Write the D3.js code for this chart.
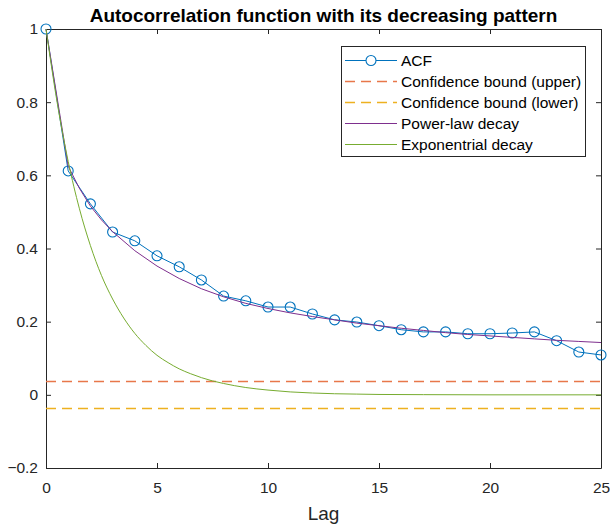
<!DOCTYPE html>
<html>
<head>
<meta charset="utf-8">
<script src="https://cdn.jsdelivr.net/npm/d3@7"></script>
<style>
  html, body { margin: 0; padding: 0; background: #fff; }
  svg { display: block; font-family: "Liberation Sans", Arial, sans-serif; }
</style>
</head>
<body>
<svg id="chart" width="610" height="526"></svg>
<script>
// ---- Data ----
const lags = d3.range(0, 26);
const acfValues = [1.000, 0.612, 0.522, 0.445, 0.421, 0.380, 0.350, 0.314, 0.270, 0.257,
                   0.240, 0.240, 0.221, 0.205, 0.199, 0.189, 0.178, 0.172, 0.172, 0.167,
                   0.167, 0.169, 0.172, 0.148, 0.117, 0.109];
const confUpper = 0.037;
const confLower = -0.037;
const powerLags   = [0, 1, 1.5, 2, 2.5, 3, 4, 5, 6, 7, 8, 9, 10, 11, 12, 13, 14, 15, 16, 17, 18, 19, 20, 21, 22, 23, 24, 25];
const powerValues = [1.000, 0.625, 0.565, 0.516, 0.478, 0.446, 0.394, 0.352, 0.318, 0.290, 0.268, 0.250, 0.236, 0.224,
                     0.214, 0.205, 0.196, 0.189, 0.182, 0.176, 0.170, 0.165, 0.161, 0.157, 0.153, 0.149, 0.146, 0.143];
const expLags   = [0, 0.5, 1, 1.5, 2, 2.5, 3, 3.5, 4, 4.5, 5, 5.5, 6, 6.5, 7, 7.5, 8, 9, 10, 11, 12, 13, 14, 15, 17, 20, 25];
const expValues = [1.000, 0.800, 0.638, 0.510, 0.408, 0.326, 0.262, 0.210, 0.168, 0.135, 0.108, 0.088, 0.071, 0.058,
                   0.047, 0.038, 0.031, 0.020, 0.013, 0.008, 0.005, 0.003, 0.002, 0.001, 0.0005, 0.0, 0.0];
const xTicks = [0, 5, 10, 15, 20, 25];
const yTicks = [-0.2, 0, 0.2, 0.4, 0.6, 0.8, 1];
const legendLabels = ["ACF", "Confidence bound (upper)", "Confidence bound (lower)", "Power-law decay", "Exponentrial decay"];
const colors = { acf: "#0072BD", upper: "#E8774A", lower: "#EDB120", power: "#7E2F8E", exp: "#77AC30" };
const titleText = "Autocorrelation function with its decreasing pattern";
const xLabelText = "Lag";

// ---- Layout ----
const margin = { left: 46, top: 29, right: 9, bottom: 58 };
const W = 610, H = 526;
const iw = W - margin.left - margin.right;
const ih = H - margin.top - margin.bottom;

const svg = d3.select("#chart");
const g = svg.append("g").attr("transform", `translate(${margin.left},${margin.top})`);

const x = d3.scaleLinear().domain([0, 25]).range([0, iw]);
const y = d3.scaleLinear().domain([-0.2, 1]).range([ih, 0]);

const axisColor = "#262626";

// Axes
const fmtY = d => d3.format("")(+d.toFixed(1));
const xAxis = g.append("g").attr("transform", `translate(0,${ih})`)
  .call(d3.axisBottom(x).tickValues(xTicks).tickSizeInner(-5).tickSizeOuter(0).tickPadding(14).tickFormat(d3.format("d")));
const xAxisTop = g.append("g")
  .call(d3.axisTop(x).tickValues(xTicks).tickSizeInner(-5).tickSizeOuter(0).tickFormat(""));
const yAxis = g.append("g")
  .call(d3.axisLeft(y).tickValues(yTicks).tickSizeInner(-5).tickSizeOuter(0).tickPadding(8).tickFormat(fmtY));
const yAxisRight = g.append("g").attr("transform", `translate(${iw},0)`)
  .call(d3.axisRight(y).tickValues(yTicks).tickSizeInner(-5).tickSizeOuter(0).tickFormat(""));

[xAxis, xAxisTop, yAxis, yAxisRight].forEach(a => {
  a.selectAll("path.domain").attr("stroke", axisColor).attr("stroke-width", 1);
  a.selectAll("line").attr("stroke", axisColor).attr("stroke-width", 1);
  a.selectAll("text").attr("fill", "#262626").style("font-size", "15.5px").style("font-family", "Liberation Sans, Arial, sans-serif");
});

// Data lines
const line = d3.line().x(d => x(d[0])).y(d => y(d[1]));
const hLine = d3.line().x(d => x(d[0])).y(d => Math.round(y(d[1])) + 0.5);

g.append("path").datum(lags.map((l, i) => [l, acfValues[i]]))
  .attr("d", line).attr("fill", "none").attr("stroke", colors.acf).attr("stroke-width", 1);
g.selectAll("circle.acf").data(lags.map((l, i) => [l, acfValues[i]])).enter()
  .append("circle").attr("class", "acf")
  .attr("cx", d => x(d[0])).attr("cy", d => y(d[1])).attr("r", 5)
  .attr("fill", "none").attr("stroke", colors.acf).attr("stroke-width", 1.1);

g.append("path").datum([[0, confUpper], [25, confUpper]])
  .attr("d", hLine).attr("fill", "none").attr("stroke", colors.upper).attr("stroke-width", 1.3)
  .attr("stroke-dasharray", "10,6");
g.append("path").datum([[0, confLower], [25, confLower]])
  .attr("d", hLine).attr("fill", "none").attr("stroke", colors.lower).attr("stroke-width", 1.3)
  .attr("stroke-dasharray", "10,6");

g.append("path").datum(powerLags.map((l, i) => [l, powerValues[i]]))
  .attr("d", line).attr("fill", "none").attr("stroke", colors.power).attr("stroke-width", 1);
g.append("path").datum(expLags.map((l, i) => [l, expValues[i]]))
  .attr("d", line.curve(d3.curveMonotoneX)).attr("fill", "none").attr("stroke", colors.exp).attr("stroke-width", 1);

// Title and x label
svg.append("text").attr("x", margin.left + iw / 2).attr("y", 22)
  .attr("text-anchor", "middle").style("font-size", "19px").style("font-weight", "bold")
  .attr("fill", "#000").text(titleText);
svg.append("text").attr("x", margin.left + iw / 2).attr("y", 520)
  .attr("text-anchor", "middle").style("font-size", "19px").attr("fill", "#262626").text(xLabelText);

// Legend
const lg = svg.append("g").attr("transform", "translate(341,46)");
lg.append("rect").attr("x", 0.5).attr("y", 0.5).attr("width", 244).attr("height", 110)
  .attr("fill", "#fff").attr("stroke", axisColor).attr("stroke-width", 1);
const legendStyles = [
  { c: colors.acf, dash: null, marker: true },
  { c: colors.upper, dash: "10,6", marker: false },
  { c: colors.lower, dash: "10,6", marker: false },
  { c: colors.power, dash: null, marker: false },
  { c: colors.exp, dash: null, marker: false }
];
legendLabels.forEach((lab, i) => {
  const yy = Math.round(14 + i * 20.9) + 0.5;
  const s = legendStyles[i];
  const ln = lg.append("line").attr("x1", 4).attr("x2", 56).attr("y1", yy).attr("y2", yy)
    .attr("stroke", s.c).attr("stroke-width", s.dash ? 1.3 : 1);
  if (s.dash) ln.attr("stroke-dasharray", s.dash);
  if (s.marker) lg.append("circle").attr("cx", 30).attr("cy", yy).attr("r", 5)
    .attr("fill", "#fff").attr("stroke", s.c).attr("stroke-width", 1.1);
  lg.append("text").attr("x", 60).attr("y", yy + 5.5).style("font-size", "15.5px").attr("fill", "#000").text(lab);
});
</script>
</body>
</html>
